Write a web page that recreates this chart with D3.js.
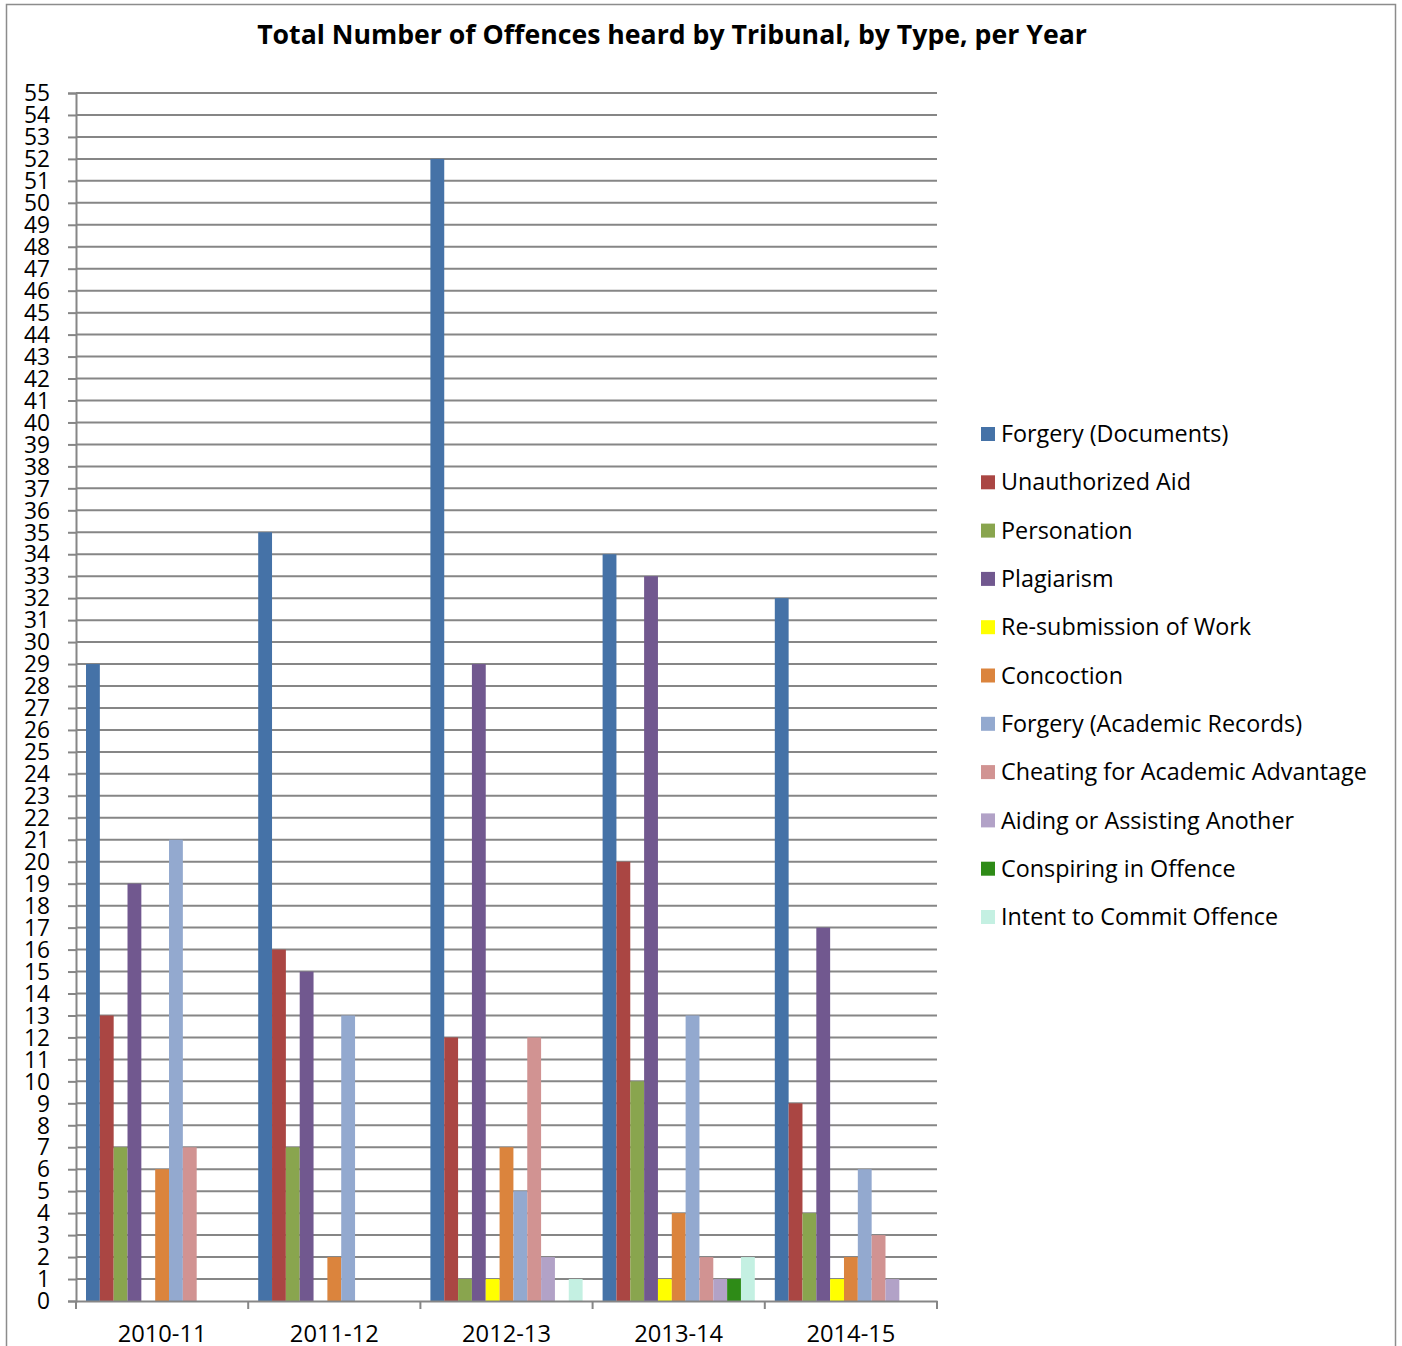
<!DOCTYPE html>
<html>
<head>
<meta charset="utf-8">
<script src="https://cdn.jsdelivr.net/npm/d3@7"></script>
<style>
  body { margin: 0; background: #fff; }
  svg { display: block; }
</style>
</head>
<body>
<div id="chart"></div>
<script>
const years = ["2010-11", "2011-12", "2012-13", "2013-14", "2014-15"]

const seriesNames = [
  "Forgery (Documents)",
  "Unauthorized Aid",
  "Personation",
  "Plagiarism",
  "Re-submission of Work",
  "Concoction",
  "Forgery (Academic Records)",
  "Cheating for Academic Advantage",
  "Aiding or Assisting Another",
  "Conspiring in Offence",
  "Intent to Commit Offence"
]

const colors = ["#4572a7", "#aa4643", "#89a54e", "#71588f", "#ffff00", "#db843d",
  "#93a9cf", "#d19392", "#b2a2c7", "#2e8b17", "#c4f0e2"]

// one array per series, one value per year
const forgeryDocs   = [29, 35, 52, 34, 32]
const unauthAid     = [13, 16, 12, 20, 9]
const personation   = [7, 7, 1, 10, 4]
const plagiarism    = [19, 15, 29, 33, 17]
const resubmission  = [0, 0, 1, 1, 1]
const concoction    = [6, 2, 7, 4, 2]
const forgeryAcad   = [21, 13, 5, 13, 6]
const cheating      = [7, 0, 12, 2, 3]
const aiding        = [0, 0, 2, 1, 1]
const conspiring    = [0, 0, 0, 1, 0]
const intent        = [0, 0, 1, 2, 0]

const values = [forgeryDocs, unauthAid, personation, plagiarism, resubmission,
  concoction, forgeryAcad, cheating, aiding, conspiring, intent]

const yTicks = d3.range(0, 56)

const width = 1402
const height = 1346
const font = "'Open Sans', Lato, sans-serif"

// scale a text's font size so that a sample string gets a given width
function fitSize(sel, sample, target, base) {
  const t = svg.append("text").attr("font-size", base).text(sample)
  sel.each(function () {
    t.attr("font-weight", d3.select(this).attr("font-weight"))
  })
  const w = t.node().getComputedTextLength()
  t.remove()
  sel.attr("font-size", base * target / w)
}

const svg = d3.select("#chart").append("svg")
  .attr("width", width)
  .attr("height", height)
  .attr("font-family", font)

// outer frame
svg.append("rect")
  .attr("x", 6.5).attr("y", 4.5)
  .attr("width", 1389).attr("height", 1360)
  .attr("fill", "#fff")
  .attr("stroke", "#8c8c8c")
  .attr("stroke-width", 1.5)

const title = svg.append("text")
  .attr("x", 672).attr("y", 44)
  .attr("text-anchor", "middle")
  .attr("font-weight", "bold")
  .text("Total Number of Offences heard by Tribunal, by Type, per Year")
fitSize(title, title.text(), 830, 24)

const plot = { left: 76, right: 937, top: 93, bottom: 1301 }

const x0 = d3.scaleBand().domain(years).range([plot.left, plot.right])
const x1 = d3.scaleBand().domain(seriesNames).range([10, x0.bandwidth() - 10])
const y = d3.scaleLinear().domain([0, 55]).range([plot.bottom, plot.top])

// gridlines
svg.append("g")
  .selectAll("line")
  .data(yTicks.filter(d => d > 0))
  .join("line")
  .attr("x1", plot.left).attr("x2", plot.right)
  .attr("y1", d => y(d)).attr("y2", d => y(d))
  .attr("stroke", "#868686")
  .attr("stroke-width", 2)

// y axis
const yAxis = svg.append("g")
  .attr("transform", `translate(${plot.left},0)`)
  .call(d3.axisLeft(y).tickValues(yTicks).tickSize(8).tickPadding(18).tickFormat(d3.format("d")))
yAxis.select(".domain").attr("stroke", "#868686").attr("stroke-width", 2)
yAxis.selectAll(".tick line").attr("stroke", "#868686").attr("stroke-width", 2)
yAxis.selectAll("text")
  .attr("font-family", font)
  .attr("fill", "#000")
  .attr("dy", "0.34em")
fitSize(yAxis.selectAll("text"), "55", 26, 22)

// bars
const groups = svg.append("g")
  .selectAll("g")
  .data(years)
  .join("g")
  .attr("transform", d => `translate(${x0(d)},0)`)

groups.selectAll("rect")
  .data((yr, i) => seriesNames.map((s, j) => ({ s, j, v: values[j][i] })).filter(d => d.v > 0))
  .join("rect")
  .attr("x", d => x1(d.s))
  .attr("width", x1.bandwidth())
  .attr("y", d => y(d.v))
  .attr("height", d => y(0) - y(d.v))
  .attr("fill", d => colors[d.j])

// x axis
const xAxis = svg.append("g")
  .attr("transform", `translate(0,${plot.bottom})`)
  .call(d3.axisBottom(x0).tickSize(0).tickPadding(24))
xAxis.select(".domain").attr("stroke", "#868686").attr("stroke-width", 2)
xAxis.selectAll("text")
  .attr("font-family", font)
  .attr("fill", "#000")
fitSize(xAxis.selectAll("text"), "2010-11", 89, 21)

// category separator ticks
xAxis.append("g")
  .selectAll("line")
  .data(d3.range(years.length + 1))
  .join("line")
  .attr("x1", i => plot.left + i * x0.bandwidth())
  .attr("x2", i => plot.left + i * x0.bandwidth())
  .attr("y1", 0).attr("y2", 8)
  .attr("stroke", "#868686")
  .attr("stroke-width", 2)

// legend
const legend = svg.append("g")
  .attr("transform", "translate(981,434)")
  .selectAll("g")
  .data(seriesNames)
  .join("g")
  .attr("transform", (d, i) => `translate(0,${i * 48.3})`)

legend.append("rect")
  .attr("x", 0).attr("y", -7)
  .attr("width", 14).attr("height", 14)
  .attr("fill", (d, i) => colors[i])

const legendText = legend.append("text")
  .attr("x", 20)
  .attr("dy", "0.35em")
  .text(d => d)
fitSize(legendText, "Cheating for Academic Advantage", 366, 22)
</script>
</body>
</html>
